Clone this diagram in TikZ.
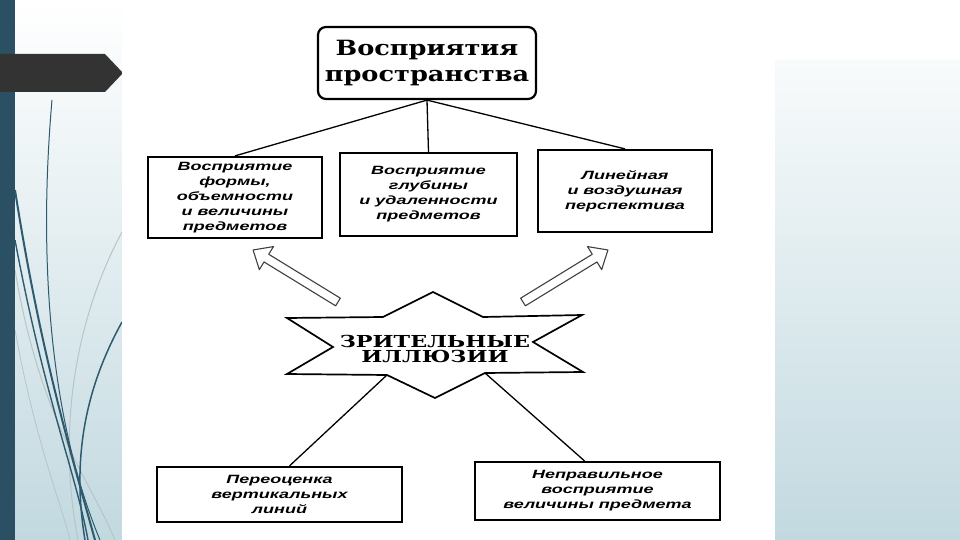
\documentclass[tikz,border=0pt]{standalone}
\usepackage{fontspec}
\usetikzlibrary{calc}
\newfontfamily\titlefont[FakeStretch=1.22]{DejaVu Serif}
\newfontfamily\starfont[FakeStretch=1.35]{DejaVu Serif}
\newfontfamily\boxfont[FakeStretch=1.5]{Liberation Sans}
\definecolor{barcol}{HTML}{2C5063}
\definecolor{chevcol}{HTML}{333333}
\definecolor{bgbot}{HTML}{C2D9E0}
\definecolor{curvedark}{HTML}{2E5A70}
\definecolor{curvegray}{HTML}{B8C4C8}
\tikzset{
  sbox/.style={draw=black, line width=2.2pt, fill=white, inner sep=0pt, align=center,
    font=\boxfont\bfseries\itshape\fontsize{12}{15}\selectfont},
  conn/.style={draw=black, line width=1.3pt},
  hollow/.style={draw=black!75, line width=1.1pt, fill=white, line join=round},
}
\begin{document}
\begin{tikzpicture}[x=1pt,y=-1pt]
\useasboundingbox (0,0) rectangle (960,540);
% slide background
\shade[top color=white, bottom color=bgbot] (0,0) rectangle (960,540);
\fill[white] (775,0) rectangle (960,60);
% left decorative curves
\draw[curvegray, line width=1pt] (122,232) .. controls (80,310) and (55,420) .. (78,540);
\draw[curvegray, line width=1pt] (15,270) .. controls (40,420) and (90,480) .. (115,540);
\draw[curvegray, line width=0.8pt] (15,330) .. controls (35,440) and (60,500) .. (70,540);
\draw[curvedark, line width=1pt] (52,100) .. controls (38,260) and (50,420) .. (100,540);
\draw[curvedark, line width=2pt] (15,190) .. controls (40,350) and (70,450) .. (95,540);
\draw[curvedark, line width=1.4pt] (15,240) .. controls (45,400) and (75,470) .. (88,540);
\draw[curvedark, line width=1.5pt] (122,322) .. controls (90,380) and (70,450) .. (85,540);
% left bar and chevron
\fill[barcol] (0,0) rectangle (15,540);
\fill[chevcol] (0,54) -- (105,54) -- (123,73) -- (105,92) -- (0,92) -- cycle;
% scanned picture area
\fill[white] (122,0) rectangle (775,540);

% top box
\node[draw=black, line width=2.2pt, rounded corners=8pt, minimum width=218pt, minimum height=72pt,
  inner sep=0pt, align=center, font=\titlefont\bfseries\fontsize{21}{26}\selectfont]
  (top) at (427,63) {Восприятия\\пространства};

% middle boxes
\node[sbox, minimum width=174pt, minimum height=81pt] (lbox) at (235,197.5)
  {Восприятие\\формы,\\объемности\\и величины\\предметов};
\node[sbox, minimum width=177pt, minimum height=83pt] (mbox) at (428.5,194.5)
  {Восприятие\\глубины\\и удаленности\\предметов};
\node[sbox, minimum width=174pt, minimum height=82pt] (rbox) at (625,191)
  {Линейная\\и воздушная\\перспектива};

\draw[conn] (top.south) -- (lbox.north);
\draw[conn] (top.south) -- (mbox.north);
\draw[conn] (top.south) -- (rbox.north);

% star
\coordinate (stl) at (287,318);
\coordinate (stli) at (383,317);
\coordinate (stop) at (433,292);
\coordinate (stri) at (483,317);
\coordinate (str) at (582,315);
\coordinate (srn) at (533,342);
\coordinate (sbr) at (583,372);
\coordinate (sbri) at (485,373);
\coordinate (sbot) at (435,398);
\coordinate (sbli) at (387,375);
\coordinate (sbl) at (287,374);
\coordinate (sln) at (333,347);
\draw[black, line width=1.7pt, fill=white, line join=miter]
  (stl) -- (stli) -- (stop) -- (stri) -- (str) -- (srn) -- (sbr) -- (sbri) -- (sbot)
  -- (sbli) -- (sbl) -- (sln) -- cycle;
\node[inner sep=0pt, align=center, font=\starfont\bfseries\fontsize{16.5}{15}\selectfont]
  (illus) at (435,349) {ЗРИТЕЛЬНЫЕ\\ИЛЛЮЗИИ};

% hollow arrows
\begin{scope}[shift={(338,302)}, rotate=148.5]
\draw[hollow] (0,-4.5) -- (84,-4.5) -- (84,-13.5) -- (99.6,0) -- (84,13.5) -- (84,4.5) -- (0,4.5) -- cycle;
\end{scope}
\begin{scope}[shift={(523,302)}, rotate=31.5]
\draw[hollow] (0,-4.5) -- (84,-4.5) -- (84,-13.5) -- (99.6,0) -- (84,13.5) -- (84,4.5) -- (0,4.5) -- cycle;
\end{scope}

% bottom boxes
\node[sbox, minimum width=245pt, minimum height=55pt] (blbox) at (279.5,494.5)
  {Переоценка\\вертикальных\\линий};
\node[sbox, minimum width=245pt, minimum height=58pt] (brbox) at (597.5,491)
  {Неправильное\\восприятие\\величины предмета};

\draw[conn] (sbli) -- ([xshift=10pt]blbox.north);
\draw[conn] (sbri) -- ([xshift=-13pt]brbox.north);
\end{tikzpicture}
\end{document}
